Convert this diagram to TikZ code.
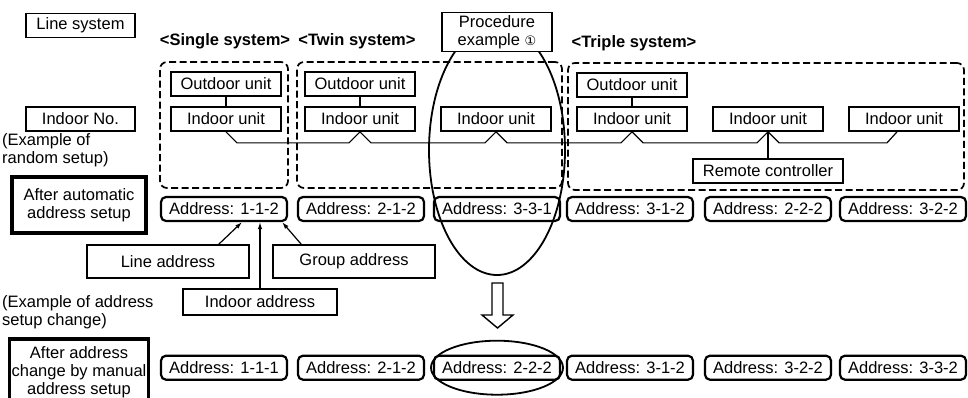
\documentclass[tikz,border=0pt]{standalone}
\usepackage{fontspec}
\setmainfont{Liberation Sans}
\newfontfamily\symfont{DejaVu Sans}
\usepackage{tikz}
\usetikzlibrary{arrows.meta, positioning, calc}

\begin{document}
\begin{tikzpicture}[
  x=1pt, y=-1pt,
  every node/.style = {font=\fontsize{16.5}{18}\selectfont},
  unit/.style = {draw, line width=1.7pt, minimum width=110pt, minimum height=24pt, inner sep=1pt},
  tag/.style = {draw, line width=1.7pt, minimum height=24pt, inner sep=1pt, align=center},
  addr/.style = {draw, line width=2.2pt, rounded corners=5pt, minimum width=126pt, minimum height=24pt, inner sep=1pt},
  stage/.style = {draw, line width=3.8pt, align=center, minimum width=134pt, inner sep=2pt},
  group/.style = {draw, dash pattern=on 7pt off 3.5pt, line width=1.7pt, rounded corners=7pt},
  note/.style = {align=left, anchor=west, inner sep=0pt},
  head/.style = {font=\fontsize{16.5}{18}\selectfont\bfseries},
  wire/.style = {line width=1.2pt},
  arrow/.style = {line width=1.2pt, -{Latex[length=7pt, width=4.5pt]}},
  node distance=132.5pt and 10pt
]
  \useasboundingbox (0,0) rectangle (968,397);

  % Left column
  \node[tag, minimum width=109pt] (linesys) at (80.5,25.5) {Line system};
  \node[tag, minimum width=109pt] (indoorno) at (80.5,119) {Indoor No.};
  \node[note] (randnote) at (2,150) {(Example of\\random setup)};
  \node[stage, minimum height=56pt] (autostage) at (79,205) {After automatic\\address setup};
  \node[note] (changenote) at (2,312) {(Example of address\\setup change)};
  \node[stage, minimum height=66pt] (manstage) at (79,372) {After address\\change by manual\\address setup};

  % System groups
  \node[group, minimum width=128pt, minimum height=126pt] (single) at (224,125) {};
  \node[group, minimum width=265pt, minimum height=126pt] (twin) at (429.5,125) {};
  \node[group, minimum width=396pt, minimum height=127pt] (triple) at (766,126.5) {};
  \node[head] (singlehead) at (225,41) {<Single system>};
  \node[head] (twinhead) at (357,41) {<Twin system>};
  \node[head] (triplehead) at (634,43) {<Triple system>};

  % Procedure example
  \draw[line width=1.8pt] (497,150) ellipse [x radius=68pt, y radius=125pt];
  \node[tag, fill=white, minimum width=110pt, minimum height=39pt] (proc) at (497,32) {Procedure\\example {\symfont\fontsize{13}{14}\selectfont ①}};

  % Units
  \node[unit] (s_out) at (226,84) {Outdoor unit};
  \node[unit] (s_in) at (226,119) {Indoor unit};
  \node[unit] (t_out) at (360,84) {Outdoor unit};
  \node[unit] (t_in) at (360,119) {Indoor unit};
  \node[unit] (p_in) at (496,119) {Indoor unit};
  \node[unit] (r_out) at (632,85) {Outdoor unit};
  \node[unit] (r_in1) at (632,119) {Indoor unit};
  \node[unit] (r_in2) at (768,119) {Indoor unit};
  \node[unit] (r_in3) at (904,119) {Indoor unit};
  \node[tag, minimum width=150pt] (remote) at (768,171) {Remote controller};

  \draw[wire] (s_out) -- (s_in);
  \draw[wire] (t_out) -- (t_in);
  \draw[wire] (r_out) -- (r_in1);
  \draw[wire] (r_in2) -- (remote);
  \draw[wire] (s_in.south) -- ++(11,11)
    -- ($(t_in.south)+(-11,11)$) -- (t_in.south) -- ++(11,11)
    -- ($(p_in.south)+(-11,11)$) -- (p_in.south) -- ++(11,11)
    -- ($(r_in1.south)+(-11,11)$) -- (r_in1.south) -- ++(11,11)
    -- ($(r_in2.south)+(-11,11)$) -- (r_in2.south) -- ++(11,11)
    -- ($(r_in3.south)+(-17,11)$) -- ($(r_in3.south)+(-7,0)$);

  % Addresses
  \foreach \i/\x/\txt in {1/224/1-1-2, 2/361/2-1-2, 3/497/3-3-1, 4/630/3-1-2, 5/768/2-2-2, 6/903/3-2-2}
    \node[addr] (a\i) at (\x,209) {Address: \txt};
  \foreach \i/\txt in {1/1-1-1, 2/2-1-2, 3/2-2-2, 4/3-1-2, 5/3-2-2, 6/3-3-2}
    \node[addr, below=of a\i] (b\i) {Address: \txt};

  % Address parts
  \node[tag, minimum width=162pt, minimum height=33pt] (lineaddr) at (168,261.5) {Line address};
  \node[tag, minimum width=162pt, minimum height=33pt] (groupaddr) at (354,261.5) {Group address};
  \node[tag, minimum width=154pt, minimum height=26pt] (indooraddr) at (260,302) {Indoor address};
  \draw[arrow] ($(lineaddr.north east)+(-31,0)$) -- ($(a1.south)+(18,0)$);
  \draw[arrow] (indooraddr.north) -- (indooraddr.north |- a1.south);
  \draw[arrow] ($(groupaddr.north west)+(29,0)$) -- ($(a1.south east)+(-6,0)$);

  % Change step
  \draw[line width=1.4pt] (492,283) -- (503,283) -- (503,315) -- (513,315)
    -- (497.5,328) -- (482,315) -- (492,315) -- cycle;
  \draw[line width=1.8pt] (b3) ellipse [x radius=66pt, y radius=27pt];

\end{tikzpicture}
\end{document}
